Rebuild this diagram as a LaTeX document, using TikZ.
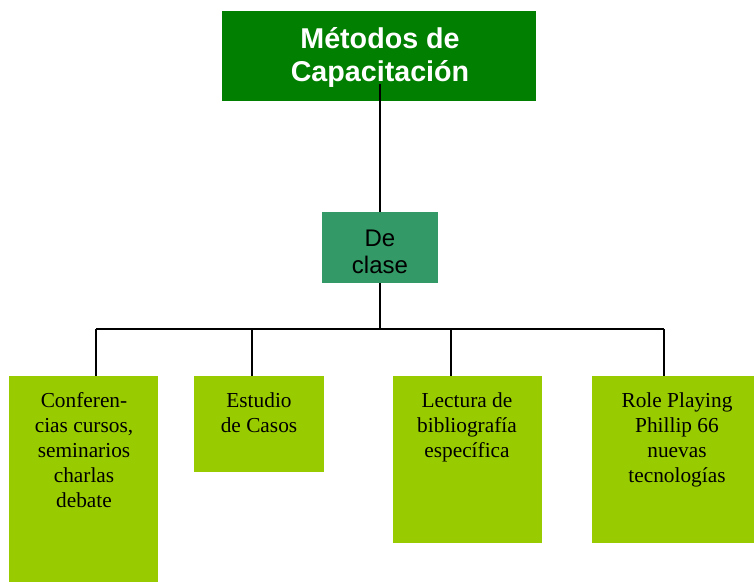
\documentclass[tikz,border=0pt]{standalone}
\usepackage{fontspec}
\setmainfont{Liberation Serif}
\newfontfamily\arialfont{Liberation Sans}
\definecolor{topgreen}{HTML}{007F00}
\definecolor{midgreen}{HTML}{339966}
\definecolor{lime}{HTML}{99CC00}
\begin{document}
\begin{tikzpicture}[x=0.75pt,y=-0.75pt,
  boxbase/.style={draw=none,inner sep=0pt,outer sep=0pt,anchor=north west},
  leafbox/.style={boxbase,fill=lime},
  leaftext/.style={inner sep=0pt,anchor=north,align=center,
    font=\fontsize{16pt}{18.75pt}\selectfont},
  link/.style={line width=1.5pt,black}]
\useasboundingbox (0,0) rectangle (754,582);
% top box
\node[boxbase,fill=topgreen,minimum width=314*0.75pt,minimum height=90*0.75pt] (top) at (222,11) {};
\node[inner sep=0pt,align=center,text=white,
  font=\arialfont\bfseries\fontsize{21.5pt}{24.75pt}\selectfont] (toptext) at (380,57) {Métodos de\\Capacitación};
% middle box
\node[boxbase,fill=midgreen,minimum width=116*0.75pt,minimum height=71*0.75pt] (mid) at (322,212) {};
\node[inner sep=0pt,align=center,
  font=\arialfont\fontsize{18pt}{20.25pt}\selectfont] (midtext) at (380,252) {De\\clase};
% leaf boxes
\node[leafbox,minimum width=149*0.75pt,minimum height=206*0.75pt] (b1) at (9,376) {};
\node[leafbox,minimum width=130*0.75pt,minimum height=96*0.75pt] (b2) at (194,376) {};
\node[leafbox,minimum width=149*0.75pt,minimum height=167*0.75pt] (b3) at (393,376) {};
\node[leafbox,minimum width=162*0.75pt,minimum height=167*0.75pt] (b4) at (592,376) {};
\node[leaftext] (t1) at (84,392) {Conferen-\\cias cursos,\\seminarios\\charlas\\debate};
\node[leaftext] (t2) at (259,392) {Estudio\\de Casos};
\node[leaftext] (t3) at (467,392) {Lectura de\\bibliografía\\específica};
\node[leaftext] (t4) at (677,392) {Role Playing\\Phillip 66\\nuevas\\tecnologías};
% connectors
\coordinate (c0) at (380,84);
\coordinate (hub) at (380,329);
\coordinate (d1) at (96,329);
\coordinate (d2) at (252,329);
\coordinate (d3) at (451,329);
\coordinate (d4) at (664,329);
\draw[link] (c0) -- (c0 |- mid.north);
\draw[link] (hub |- mid.south) -- (hub);
\draw[link] (d1) -- (d4);
\draw[link] (d1) -- (d1 |- b1.north);
\draw[link] (d2) -- (d2 |- b2.north);
\draw[link] (d3) -- (d3 |- b3.north);
\draw[link] (d4) -- (d4 |- b4.north);
\end{tikzpicture}
\end{document}
